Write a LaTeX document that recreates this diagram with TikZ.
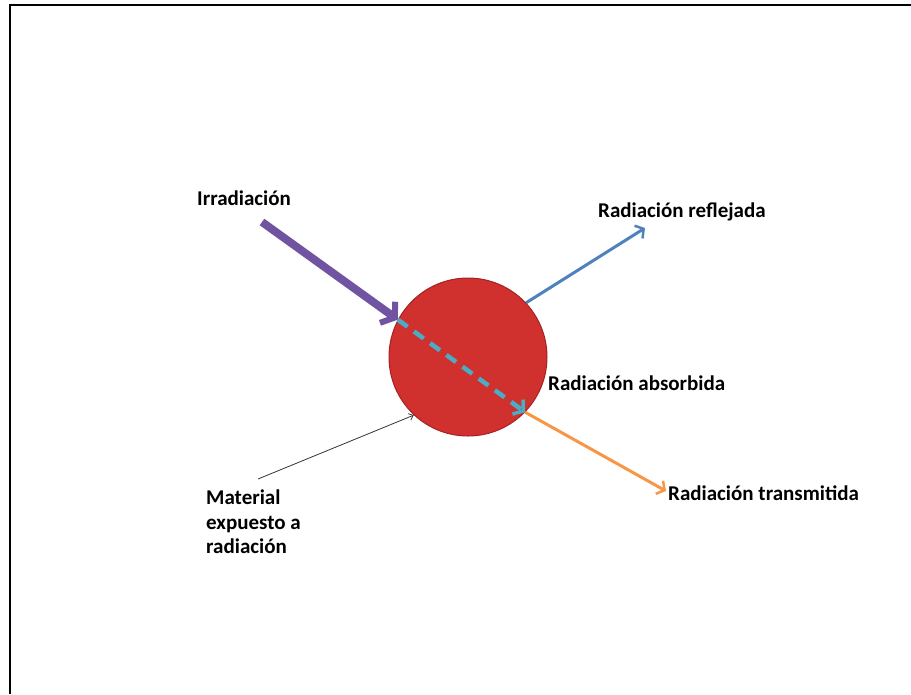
\documentclass[tikz,border=0pt]{standalone}
\usepackage{fontspec}
\setmainfont{Carlito}
\usetikzlibrary{positioning, calc, arrows.meta}
\definecolor{ballred}{RGB}{208,48,46}
\definecolor{balledge}{RGB}{165,35,35}
\definecolor{irrpurple}{RGB}{112,84,162}
\definecolor{abscyan}{RGB}{75,172,198}
\definecolor{refblue}{RGB}{79,129,189}
\definecolor{transorange}{RGB}{247,150,70}
\tikzset{
  lbl/.style={font=\bfseries\fontsize{21}{24.5}\selectfont, align=left, inner sep=0pt, anchor=west},
  ball/.style={circle, draw=balledge, line width=1pt, fill=ballred, minimum size=158pt, inner sep=0pt},
  irrarrow/.style={draw=irrpurple, line width=8pt, -{Straight Barb[length=9pt, width=26pt, line width=6pt]}},
  absarrow/.style={draw=abscyan, line width=4.5pt, dash pattern=on 12pt off 8pt,
    -{Straight Barb[length=7pt, width=18pt, line width=3.5pt]}},
  refarrow/.style={draw=refblue, line width=3pt, -{Straight Barb[length=6pt, width=15pt, line width=2.5pt]}},
  transarrow/.style={draw=transorange, line width=3pt, -{Straight Barb[length=6pt, width=15pt, line width=2.5pt]}},
  callout/.style={draw=black!80, line width=0.8pt, -{Straight Barb[length=4pt, width=7pt]}}
}
\begin{document}
\begin{tikzpicture}[x=1pt, y=-1pt]
  \useasboundingbox (0,0) rectangle (911,694);
  % frame
  \draw[line width=2.5pt] (10,694) -- (10,5) -- (911,5);
  % material
  \node[ball] (mat) at (468,357) {};
  % labels
  \node[lbl] (irr) at (197,198) {Irradiación};
  \node[lbl] (refl) at (598,212) {Radiación reflejada};
  \node[lbl] (abs) at (548,383) {Radiación absorbida};
  \node[lbl] (trans) at (668,493) {Radiación transmitida};
  \node[lbl] (matlbl) at (206,522) {Material\\expuesto a\\radiación};
  % arrow ends
  \coordinate (irrstart) at (262,222);
  \coordinate (reftip) at (645,228);
  \coordinate (transtip) at (666,491);
  \coordinate (calloutstart) at (258,479);
  % arrows
  \draw[transarrow] (mat.-44) -- (transtip);
  \draw[refarrow] (mat.43) -- (reftip);
  \draw[irrarrow] (irrstart) -- (mat.152);
  \draw[absarrow] (mat.152) -- (mat.-44);
  \draw[callout] (calloutstart) -- (mat.-133);
\end{tikzpicture}
\end{document}
